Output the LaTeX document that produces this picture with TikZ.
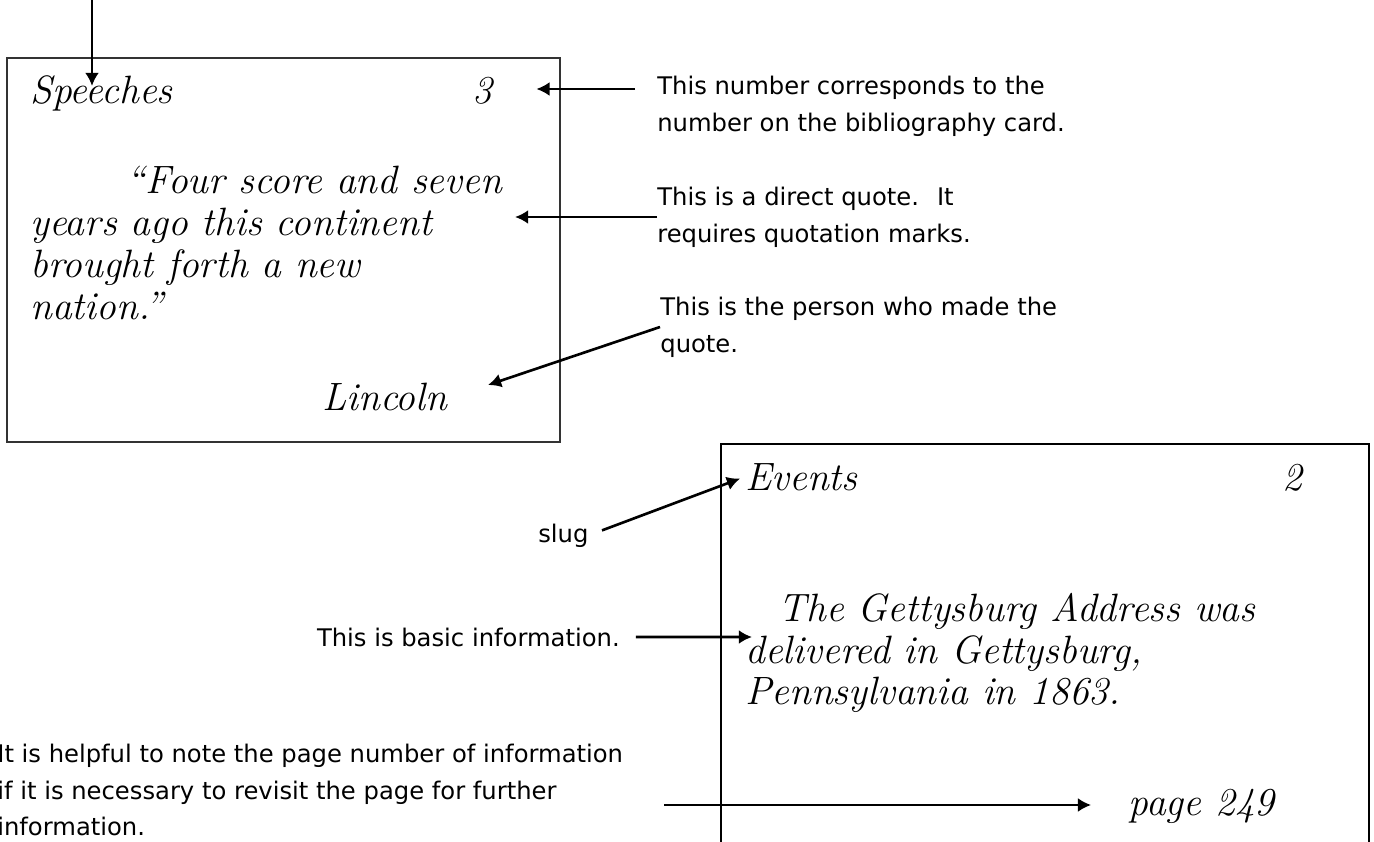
\documentclass[tikz,border=0pt]{standalone}
\usepackage{fontspec}
\usetikzlibrary{arrows.meta}
\newfontfamily\notefont{DejaVu Sans}
\tikzset{
  card/.style={draw=black!80, line width=1.1pt},
  hand/.style={font=\fontsize{22.5}{23.8}\selectfont\itshape, inner sep=0pt, align=left},
  note/.style={font=\notefont\fontsize{13.8}{21}\selectfont, inner sep=0pt, align=left},
  pointer/.style={-{Latex[length=7.5pt,width=8pt]}, line width=1.5pt}
}
\begin{document}
\begin{tikzpicture}[x=0.02cm, y=-0.02cm]
\useasboundingbox (0,0) rectangle (1374,842);
\clip (0,0) rectangle (1374,842);
\draw[card] (7,58) rectangle (560,442);
\draw[card, draw=black] (721,444) rectangle (1369,900);

\node[hand, anchor=base west] (speeches) at (30,103) {Speeches};
\node[hand, anchor=base west] (cardnum) at (472,103) {3};
\node[hand, anchor=west] (quote) at (30,243) {\hspace*{55pt}“Four score and seven\\years ago this continent\\brought forth a new\\nation.”};
\node[hand, anchor=base west] (lincoln) at (322,410) {Lincoln};

\node[hand, anchor=base west] (events) at (745,490) {Events};
\node[hand, anchor=base west] (cardnumb) at (1282,490) {2};
\node[hand, anchor=west] (fact) at (745,653) {\hspace*{19pt}The Gettysburg Address was\\delivered in Gettysburg,\\Pennsylvania in 1863.};
\node[hand, anchor=base west] (pagenum) at (1128,815) {page 249};

\node[note, anchor=west] (numnote) at (657,106) {This number corresponds to the\\number on the bibliography card.};
\node[note, anchor=west] (quotenote) at (657,217) {This is a direct quote.~ It\\requires quotation marks.};
\node[note, anchor=west] (whonote) at (660,327) {This is the person who made the\\quote.};
\node[note, anchor=base west] (slug) at (538,542) {slug};
\node[note, anchor=base east] (basic) at (620,646) {This is basic information.};
\node[note, anchor=west] (helpnote) at (-3,790) {It is helpful to note the page number of information\\if it is necessary to revisit the page for further\\information.};

\coordinate (slugtop) at (92,0);
\coordinate (slugtip) at (92,86);
\coordinate (numtail) at (635,89);
\coordinate (quotetip) at (515,217);
\coordinate (whotip) at (488,385);
\coordinate (facttip) at (752,637);
\coordinate (pagetail) at (664,805);

\draw[pointer] (slugtop) -- (slugtip);
\draw[pointer, shorten >=25pt] (numtail) -- (cardnum.east |- numtail);
\draw[pointer] (quotenote.west) -- (quotetip);
\draw[pointer] (whonote.west) -- (whotip);
\draw[pointer, shorten <=8pt, shorten >=3pt] (slug.east) -- (events.west);
\draw[pointer, shorten <=9pt] (basic.east) -- (facttip);
\draw[pointer, shorten >=21pt] (pagetail) -- (pagenum.west |- pagetail);
\end{tikzpicture}
\end{document}
